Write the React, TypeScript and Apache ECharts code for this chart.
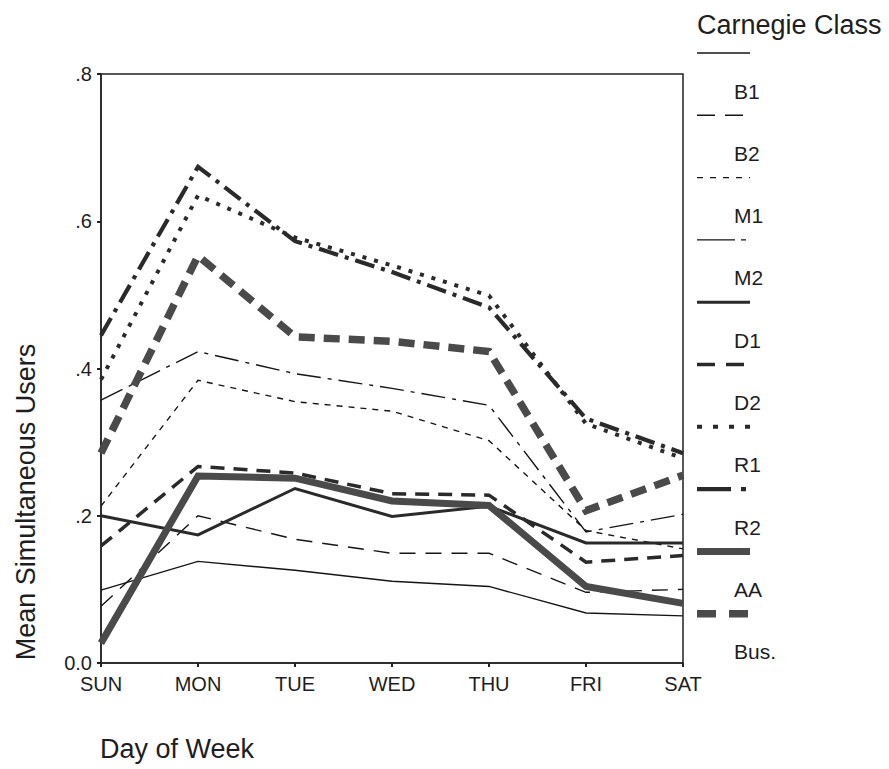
import React, { useEffect, useRef } from "react";
import * as echarts from "echarts";

const days = ["SUN", "MON", "TUE", "WED", "THU", "FRI", "SAT"];
const classNames = ["B1", "B2", "M1", "M2", "D1", "D2", "R1", "R2", "AA", "Bus."];

const b1 = [0.099, 0.138, 0.126, 0.111, 0.104, 0.068, 0.064];
const b2 = [0.077, 0.2, 0.168, 0.149, 0.149, 0.096, 0.1];
const m1 = [0.213, 0.384, 0.355, 0.342, 0.302, 0.18, 0.155];
const m2 = [0.357, 0.423, 0.393, 0.373, 0.35, 0.178, 0.202];
const d1 = [0.2, 0.174, 0.237, 0.199, 0.213, 0.163, 0.163];
const d2 = [0.159, 0.267, 0.258, 0.23, 0.228, 0.137, 0.146];
const r1 = [0.385, 0.635, 0.578, 0.54, 0.499, 0.325, 0.278];
const r2 = [0.445, 0.674, 0.573, 0.531, 0.483, 0.332, 0.285];
const aa = [0.027, 0.254, 0.251, 0.22, 0.214, 0.104, 0.081];
const bus = [0.285, 0.553, 0.443, 0.437, 0.423, 0.207, 0.255];

const seriesValues = [b1, b2, m1, m2, d1, d2, r1, r2, aa, bus];

const yTicks = [0, 0.2, 0.4, 0.6, 0.8];
const yTickLabels = ["0.0", ".2", ".4", ".6", ".8"];

// styles (not data)
const lineStyles: { width: number; color: string; type: any }[] = [
  { width: 1.4, color: "#151515", type: "solid" },
  { width: 1.4, color: "#151515", type: [16, 10] },
  { width: 1.4, color: "#151515", type: [6, 6] },
  { width: 1.4, color: "#151515", type: [24, 7, 4, 7] },
  { width: 3, color: "#2a2a2a", type: "solid" },
  { width: 3.5, color: "#2a2a2a", type: [14, 9] },
  { width: 4, color: "#2a2a2a", type: [4, 8] },
  { width: 4.2, color: "#2a2a2a", type: [20, 7, 4, 7] },
  { width: 7, color: "#4a4a4a", type: "solid" },
  { width: 7.5, color: "#4a4a4a", type: [16, 9] },
];
const legendDash: any[] = [
  "solid",
  [18, 10],
  [6, 7],
  [38, 6, 5, 6],
  "solid",
  [18, 11],
  [5, 11],
  [34, 10, 5, 10],
  "solid",
  [19, 13],
];

const FONT = "'Liberation Sans', Arial, sans-serif";

export default function App() {
  const ref = useRef<HTMLDivElement>(null);
  useEffect(() => {
    if (!ref.current) return;
    const chart = echarts.init(ref.current, undefined, { renderer: "svg" });

    const legendGraphics: any[] = [];
    const legendX = 697;
    const legendTop = 53;
    const step = 62.3;
    classNames.forEach((name, i) => {
      const st = lineStyles[i];
      legendGraphics.push({
        type: "line",
        shape: { x1: legendX, y1: legendTop + i * step, x2: legendX + 53, y2: legendTop + i * step },
        style: {
          stroke: st.color,
          lineWidth: Math.max(st.width, 1.4),
          lineDash: legendDash[i] === "solid" ? null : legendDash[i],
        },
        silent: true,
      });
      legendGraphics.push({
        type: "text",
        x: 734,
        y: legendTop + i * step + 38,
        style: {
          text: name,
          font: `21px ${FONT}`,
          fill: "#1e1e1e",
          textAlign: "left",
          textVerticalAlign: "middle",
        },
        silent: true,
      });
    });

    const option: any = {
      animation: false,
      backgroundColor: "#fff",
      grid: {
        left: 101,
        right: 206,
        top: 74,
        bottom: 106,
        show: true,
        borderColor: "#222",
        borderWidth: 1.5,
        containLabel: false,
      },
      xAxis: {
        type: "category",
        data: days,
        boundaryGap: false,
        axisLine: { lineStyle: { color: "#222", width: 1.5 } },
        axisTick: { show: true, length: 4, alignWithLabel: true, lineStyle: { color: "#222", width: 2 } },
        axisLabel: { fontFamily: FONT, fontSize: 20, color: "#1e1e1e", margin: 11 },
        splitLine: { show: false },
      },
      yAxis: {
        type: "value",
        min: 0,
        max: 0.8,
        interval: 0.2,
        axisLine: { show: true, lineStyle: { color: "#222", width: 1.5 } },
        axisTick: { show: true, length: 4, lineStyle: { color: "#222", width: 2 } },
        axisLabel: {
          fontFamily: FONT,
          fontSize: 20,
          color: "#1e1e1e",
          margin: 9,
          formatter: (v: number) => {
            const idx = yTicks.findIndex((t) => Math.abs(t - v) < 1e-9);
            return idx >= 0 ? yTickLabels[idx] : "";
          },
        },
        splitLine: { show: false },
      },
      graphic: [
        {
          type: "text",
          x: 26,
          y: 502,
          rotation: Math.PI / 2,
          style: {
            text: "Mean Simultaneous Users",
            font: `27px ${FONT}`,
            fill: "#1e1e1e",
            textAlign: "center",
            textVerticalAlign: "middle",
          },
          silent: true,
        },
        {
          type: "text",
          x: 100,
          y: 749,
          style: {
            text: "Day of Week",
            font: `27px ${FONT}`,
            fill: "#1e1e1e",
            textAlign: "left",
            textVerticalAlign: "middle",
          },
          silent: true,
        },
        {
          type: "text",
          x: 697,
          y: 25,
          style: {
            text: "Carnegie Class",
            font: `27px ${FONT}`,
            fill: "#1e1e1e",
            textAlign: "left",
            textVerticalAlign: "middle",
          },
          silent: true,
        },
        ...legendGraphics,
      ],
      series: classNames.map((name, i) => ({
        name,
        type: "line",
        data: seriesValues[i],
        symbol: "none",
        lineStyle: {
          width: lineStyles[i].width,
          color: lineStyles[i].color,
          type: lineStyles[i].type,
          cap: "butt",
          join: "miter",
        },
        z: 2,
      })),
    };
    chart.setOption(option);
    return () => chart.dispose();
  }, []);
  return (
    <div
      ref={ref}
      style={{ position: "absolute", left: 0, top: 0, width: 889, height: 769 }}
    />
  );
}
